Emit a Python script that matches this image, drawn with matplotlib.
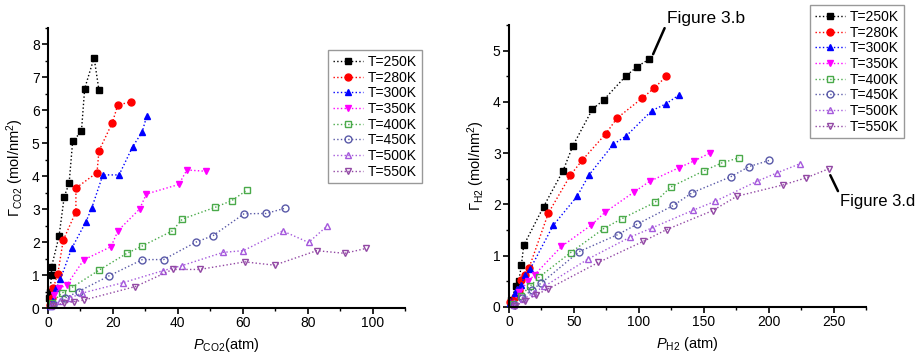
import numpy as np
import matplotlib
matplotlib.use('Agg')
import matplotlib.pyplot as plt
from matplotlib.ticker import MultipleLocator

plt.rcParams['font.family'] = ['Liberation Sans', 'DejaVu Sans']
plt.rcParams['mathtext.fontset'] = 'custom'
plt.rcParams['mathtext.rm'] = 'Liberation Sans'
plt.rcParams['mathtext.it'] = 'Liberation Sans:italic'

###########################################################
# data
###########################################################
labels = ['T=250K', 'T=280K', 'T=300K', 'T=350K', 'T=400K', 'T=450K', 'T=500K', 'T=550K']

# CO2 isotherms (left panel)
co2_250_x = [0.4, 0.6, 1.1, 1.1, 3.4, 5.0, 6.5, 7.6, 10.3, 11.3, 14.2, 15.7]
co2_250_y = [0.3, 0.5, 1.0, 1.25, 2.18, 3.38, 3.78, 5.06, 5.36, 6.66, 7.6, 6.61]
co2_280_x = [0.5, 1.2, 1.6, 3.0, 4.7, 8.6, 8.6, 15.1, 15.7, 19.8, 21.5, 25.6]
co2_280_y = [0.1, 0.3, 0.6, 1.03, 2.06, 2.92, 3.64, 4.11, 4.77, 5.62, 6.16, 6.26]
co2_300_x = [0.5, 1.6, 2.6, 3.8, 7.3, 11.7, 13.5, 16.9, 21.9, 26.1, 29.0, 30.4]
co2_300_y = [0.05, 0.24, 0.6, 0.87, 1.81, 2.62, 3.04, 4.04, 4.04, 4.9, 5.34, 5.82]
co2_350_x = [0.8, 1.9, 3.5, 5.8, 11.0, 19.4, 21.6, 28.2, 30.3, 40.3, 42.8, 48.7]
co2_350_y = [0.1, 0.4, 0.6, 0.7, 1.46, 1.86, 2.35, 3.0, 3.46, 3.75, 4.19, 4.15]
co2_400_x = [1.2, 4.2, 7.3, 15.6, 24.3, 29.0, 38.3, 41.4, 51.6, 56.6, 61.2]
co2_400_y = [0.15, 0.45, 0.62, 1.14, 1.66, 1.88, 2.34, 2.70, 3.06, 3.26, 3.57]
co2_450_x = [1.4, 5.2, 9.4, 18.9, 29.1, 35.6, 45.6, 50.9, 60.4, 67.2, 73.1]
co2_450_y = [0.1, 0.3, 0.5, 0.98, 1.47, 1.47, 2.0, 2.2, 2.86, 2.87, 3.03]
co2_500_x = [0.9, 3.6, 6.7, 10.4, 23.2, 35.3, 41.4, 54.0, 60.2, 72.3, 80.3, 85.9]
co2_500_y = [0.05, 0.2, 0.3, 0.45, 0.77, 1.13, 1.29, 1.69, 1.74, 2.34, 1.99, 2.48]
co2_550_x = [1.4, 4.8, 7.9, 11.0, 26.9, 38.4, 46.7, 60.6, 69.8, 82.8, 91.4, 98.1]
co2_550_y = [0.06, 0.15, 0.19, 0.24, 0.65, 1.17, 1.17, 1.40, 1.30, 1.74, 1.66, 1.81]

# H2 isotherms (right panel)
h2_250_x = [1.8, 5.2, 7.5, 9.6, 11.3, 26.7, 41.7, 49.1, 64.3, 73.0, 89.8, 98.8, 107.8]
h2_250_y = [0.14, 0.4, 0.5, 0.82, 1.2, 1.96, 2.66, 3.14, 3.86, 4.04, 4.5, 4.69, 4.83]
h2_280_x = [1.0, 4.5, 7.8, 9.6, 12.5, 15.4, 30.3, 47.3, 56.3, 74.6, 83.1, 102.4, 111.9, 121.2]
h2_280_y = [0.1, 0.2, 0.34, 0.53, 0.62, 0.76, 1.83, 2.57, 2.86, 3.38, 3.68, 4.07, 4.27, 4.5]
h2_300_x = [0.6, 4.4, 6.5, 9.6, 12.1, 16.5, 34.0, 52.5, 61.5, 80.2, 90.5, 110.0, 120.8, 131.2]
h2_300_y = [0.08, 0.27, 0.35, 0.42, 0.63, 0.75, 1.59, 2.16, 2.57, 3.17, 3.34, 3.83, 3.96, 4.14]
h2_350_x = [2.5, 8.0, 14.7, 19.8, 40.4, 63.5, 74.1, 96.2, 108.3, 131.2, 142.7, 154.6]
h2_350_y = [0.05, 0.3, 0.5, 0.63, 1.18, 1.6, 1.85, 2.24, 2.45, 2.72, 2.85, 3.0]
h2_400_x = [3.0, 9.0, 16.0, 23.1, 47.4, 73.0, 86.7, 112.4, 124.5, 150.5, 163.9, 177.2]
h2_400_y = [0.05, 0.22, 0.4, 0.58, 1.06, 1.53, 1.72, 2.04, 2.34, 2.66, 2.81, 2.91]
h2_450_x = [3.5, 10.0, 18.0, 25.0, 54.0, 83.6, 98.3, 126.6, 141.2, 170.8, 185.0, 200.6]
h2_450_y = [0.04, 0.18, 0.34, 0.47, 1.08, 1.41, 1.61, 1.98, 2.23, 2.54, 2.74, 2.86]
h2_500_x = [4.0, 11.0, 19.0, 27.0, 61.2, 93.1, 109.9, 142.0, 158.7, 190.9, 206.8, 223.8]
h2_500_y = [0.03, 0.15, 0.28, 0.4, 0.94, 1.36, 1.54, 1.89, 2.06, 2.45, 2.62, 2.79]
h2_550_x = [5.0, 12.0, 21.0, 30.0, 68.9, 103.4, 121.4, 156.9, 175.5, 211.0, 229.0, 246.7]
h2_550_y = [0.02, 0.12, 0.24, 0.35, 0.87, 1.28, 1.51, 1.88, 2.16, 2.38, 2.52, 2.7]

co2 = [(co2_250_x, co2_250_y), (co2_280_x, co2_280_y), (co2_300_x, co2_300_y),
       (co2_350_x, co2_350_y), (co2_400_x, co2_400_y), (co2_450_x, co2_450_y),
       (co2_500_x, co2_500_y), (co2_550_x, co2_550_y)]
h2 = [(h2_250_x, h2_250_y), (h2_280_x, h2_280_y), (h2_300_x, h2_300_y),
      (h2_350_x, h2_350_y), (h2_400_x, h2_400_y), (h2_450_x, h2_450_y),
      (h2_500_x, h2_500_y), (h2_550_x, h2_550_y)]

# marker styles (Origin-like)
colors  = ['#000000', '#ff0000', '#0000ff', '#ff00ff', '#4aaa4a', '#5a5aa8', '#a559dc', '#9248a4']
markers = ['s', 'o', '^', 'v', 's', 'o', '^', 'v']
filled  = [True, True, True, True, False, False, False, False]

###########################################################
fig = plt.figure(figsize=(9.21, 3.62), dpi=100)

def draw_panel(ax, series):
    for i, (x, y) in enumerate(series):
        ax.plot(x, y, linestyle=':', lw=1.0, color=colors[i],
                marker=markers[i], markersize=5.0, markeredgewidth=1.0,
                markerfacecolor=colors[i] if filled[i] else 'none',
                markeredgecolor=colors[i], label=labels[i], clip_on=False)
    for s in ['top', 'right']:
        ax.spines[s].set_visible(False)
    for s in ['left', 'bottom']:
        ax.spines[s].set_linewidth(1.5)
    ax.tick_params(axis='both', which='major', direction='out', length=4, width=1.2,
                   labelsize=10, pad=2)
    ax.tick_params(axis='both', which='minor', direction='out', length=2.5, width=1.0)

def draw_legend(ax, anchor):
    lgd = ax.legend(loc='upper left', bbox_to_anchor=anchor, bbox_transform=fig.transFigure,
                    borderaxespad=0, fontsize=10, frameon=True, fancybox=False,
                    handlelength=2.2, handletextpad=0.3, labelspacing=0.12,
                    borderpad=0.35, edgecolor='#808080')
    lgd.get_frame().set_linewidth(1.0)
    return lgd

###########################################################
# 1) CO2 panel
###########################################################
ax1 = fig.add_axes([48/921, 1-308/362, 357/921, 280/362])
draw_panel(ax1, co2)
ax1.set_xlim(0, 110)
ax1.set_ylim(0, 8.5)
ax1.xaxis.set_major_locator(MultipleLocator(20))
ax1.xaxis.set_minor_locator(MultipleLocator(10))
ax1.yaxis.set_major_locator(MultipleLocator(1))
ax1.yaxis.set_minor_locator(MultipleLocator(0.5))
ax1.set_xlabel(r'$P_{\mathrm{CO2}}$(atm)', fontsize=10.5, labelpad=4)
ax1.set_ylabel(r'$\Gamma_{\mathrm{CO2}}$ (mol/nm$^2$)', fontsize=10.5, labelpad=4)
draw_legend(ax1, (328/921, 1-50/362))

###########################################################
# 2) H2 panel
###########################################################
ax2 = fig.add_axes([509/921, 1-307/362, 357/921, 282/362])
draw_panel(ax2, h2)
ax2.set_xlim(0, 275)
ax2.set_ylim(0, 5.5)
ax2.xaxis.set_major_locator(MultipleLocator(50))
ax2.xaxis.set_minor_locator(MultipleLocator(25))
ax2.yaxis.set_major_locator(MultipleLocator(1))
ax2.yaxis.set_minor_locator(MultipleLocator(0.5))
ax2.set_xlabel(r'$P_{\mathrm{H2}}$ (atm)', fontsize=10.5, labelpad=4)
ax2.set_ylabel(r'$\Gamma_{\mathrm{H2}}$ (mol/nm$^2$)', fontsize=10.5, labelpad=4)
draw_legend(ax2, (810/921, 1-5/362))

# call-outs
ax2.annotate('Figure 3.b', xy=(111, 4.93), xytext=(122, 5.62),
             fontsize=12.5, va='center', ha='left', annotation_clip=False,
             arrowprops=dict(arrowstyle='-', color='black', lw=1.8,
                             shrinkA=0, shrinkB=0, relpos=(0, 0.3)))
ax2.annotate('Figure 3.d', xy=(247.5, 2.57), xytext=(255, 2.06),
             fontsize=12, va='center', ha='left', annotation_clip=False,
             arrowprops=dict(arrowstyle='-', color='black', lw=1.8,
                             shrinkA=0, shrinkB=0, relpos=(0, 0.9)))

plt.savefig('out.png', dpi=100)
